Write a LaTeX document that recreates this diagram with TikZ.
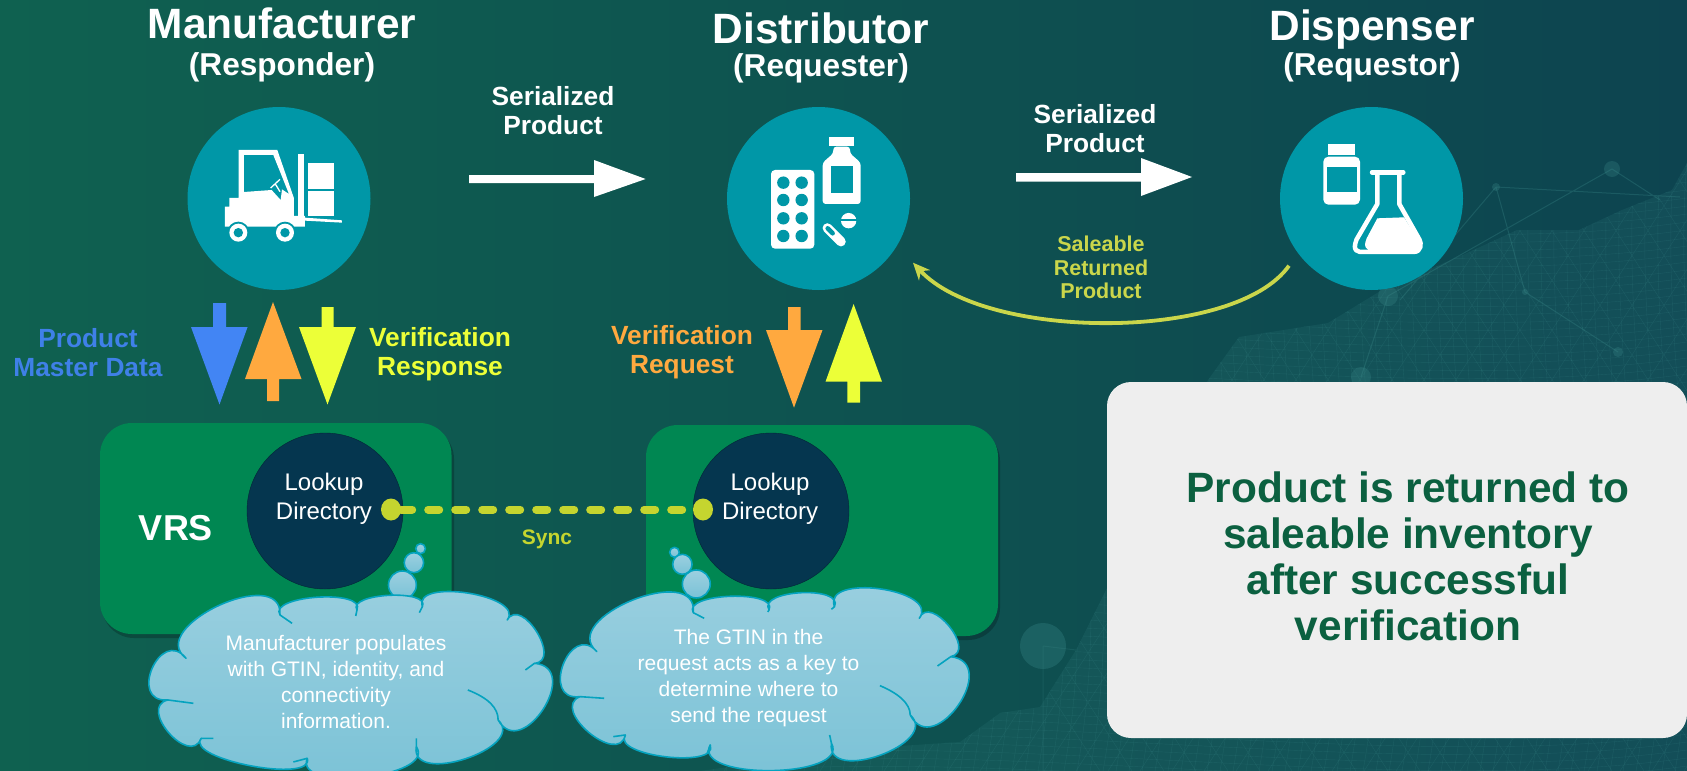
\documentclass[tikz,border=0pt]{standalone}
\usepackage{fontspec}
\setmainfont{Liberation Sans}
\usetikzlibrary{calc,arrows.meta,shapes.geometric}
\definecolor{teal1}{HTML}{0097A7}
\definecolor{boxgreen}{HTML}{008752}
\definecolor{darkblue}{HTML}{05364F}
\definecolor{cloudline}{HTML}{05A3BF}
\definecolor{lime1}{HTML}{C5D52F}
\definecolor{lime2}{HTML}{CAD64B}
\definecolor{blue1}{HTML}{4285F4}
\definecolor{blue2}{HTML}{3F80E8}
\definecolor{orange1}{HTML}{FFA93F}
\definecolor{yellow1}{HTML}{ECFF38}
\definecolor{greytext}{HTML}{0B6040}
\definecolor{meshcol}{HTML}{3C8C8C}
\definecolor{cloudtop}{HTML}{9CD0E0}
\definecolor{cloudbot}{HTML}{7AC2D6}
\definecolor{bgl}{HTML}{0F6150}
\definecolor{bgm}{HTML}{10504B}
\definecolor{bgr}{HTML}{0D4450}
\definecolor{msgbg}{HTML}{EEEEEE}
\newcommand{\lb}[3]{.. controls ($(#2)!#1!118:(#3)$) and ($(#3)!#1!-118:(#2)$) .. (#3)}
\tikzset{
  hub/.style={circle,fill=teal1,minimum size=183pt,inner sep=0pt},
  dircircle/.style={circle,fill=darkblue,draw=darkblue!70!black,minimum size=156pt,inner sep=0pt},
  syncdot/.style={ellipse,fill=lime1,minimum width=20pt,minimum height=22pt,inner sep=0pt},
  title/.style={text=white,font=\fontsize{42.4}{46}\selectfont\bfseries,anchor=base},
  subtitle/.style={text=white,font=\fontsize{31.6}{34}\selectfont\bfseries,anchor=base},
  flowlabel/.style={align=center,font=\fontsize{26.3}{29}\selectfont\bfseries},
  dirlabel/.style={align=center,text=white,font=\fontsize{24}{29}\selectfont},
  cloudlabel/.style={align=center,text=white,font=\fontsize{21}{26}\selectfont},
  cloudshape/.style={draw=cloudline,line width=1.6pt,top color=cloudtop,bottom color=cloudbot,line join=round},
  cloudtick/.style={draw=cloudline,line width=1.6pt},
  puff/.style={cloudshape},
  vrsbox/.style={fill=boxgreen,rounded corners=32pt},
  vrsshadow/.style={fill=black,opacity=.22,rounded corners=32pt},
  meshline/.style={draw=meshcol,line width=.4pt,opacity=.22},
  netline/.style={draw=meshcol,line width=1pt,opacity=.3},
  netdot/.style={fill=meshcol,opacity=.28},
}
\begin{document}
\begin{tikzpicture}[x=1pt,y=-1pt]
\useasboundingbox (0,0) rectangle (1687,771);
% background
\fill[left color=bgl,middle color=bgm,right color=bgr] (0,0) rectangle (1687,771);
% mesh landscape
\begin{scope}
\clip (700,771) -- (800,757) -- (900,746) -- (960,742) -- (1000,713) -- (1040,707) -- (1076,650) -- (1106,590) -- (1208,380) -- (1239,337) -- (1328,323) -- (1382,290) -- (1467,253) -- (1517,230) -- (1579,230) -- (1622,210) -- (1672,190) -- (1687,163) -- (1687,771) -- cycle;
\fill[meshcol,opacity=.14] (690,150) rectangle (1687,771);
\foreach \i in {0,...,90}{
  \draw[meshline] (700+\i*13,150) .. controls (680+\i*13,350) and (740+\i*13,550) .. (700+\i*13,771);
  \draw[meshline] (700,150+\i*8) .. controls (1000,120+\i*8) and (1400,190+\i*8) .. (1687,150+\i*8);
}
\foreach \i in {0,...,40}{
  \draw[meshline] (500+\i*32,771) -- (900+\i*32,150);
  \draw[meshline] (700+\i*32,150) -- (1100+\i*32,771);
}
\end{scope}
% network points
\coordinate (n1) at (1496,187);
\coordinate (n2) at (1612,169);
\coordinate (n3) at (1388,296);
\coordinate (n4) at (1525,292);
\coordinate (n5) at (1680,197);
\coordinate (n6) at (1361,377);
\coordinate (n7) at (1618,352);
\coordinate (n8) at (1076,650);
\coordinate (n9) at (1043,646);
\coordinate (n10) at (1043,771);
\draw[netline] (n1)--(n5) (n1)--(1400,300) (n2)--(n3) (n2)--(1660,200) (n1)--(n4) (n4)--(n7) (n3)--(n6);
\draw[netline,opacity=.2] (n9)--(n10) (n9)--(n8);
\fill[netdot] (n1) circle (4);
\fill[netdot] (n2) circle (8);
\fill[netdot] (n3) circle (10);
\fill[netdot] (n4) circle (3);
\fill[netdot] (n6) circle (10);
\fill[netdot] (n7) circle (5);
\fill[meshcol,opacity=.3] (n9) circle (23);

% titles
\node[title] (t1) at (282,38) {Manufacturer};
\node[subtitle] (s1) at (282,75) {(Responder)};
\node[title] (t2) at (821,43) {Distributor};
\node[subtitle] (s2) at (821,76) {(Requester)};
\node[title] (t3) at (1372,40) {Dispenser};
\node[subtitle] (s3) at (1372,75) {(Requestor)};

% hubs
\node[hub] (mfr) at (279,198.5) {};
\node[hub] (dist) at (818.5,198.5) {};
\node[hub] (disp) at (1371.5,198.5) {};

% forklift
\begin{scope}[shift={(190,130)},x=.3333pt,y=-.3333pt]
\fill[white,even odd rule] (105,290) -- (105,230) -- (118,230) -- (118,204) -- (146,204) -- (146,60) -- (262,60) -- (312,205) -- (312,258) -- (345,258) -- (345,290) -- cycle
 (162,75) -- (250,75) -- (297,192) -- (276,178) -- (272,210) -- (245,180) -- (162,186) -- cycle;
\draw[white,line width=1.3pt] (242,174) -- (270,148) (256,162) -- (270,185);
\fill[white] (325,72) rectangle (342,262);
\fill[white] (355,100) rectangle (431,178);
\fill[white] (355,182) rectangle (431,258);
\fill[white] (345,263) -- (456,271) -- (456,278) -- (345,272) -- cycle;
\foreach \wx in {145,285}{
  \fill[teal1] (\wx,308) circle (11pt);
  \fill[white] (\wx,308) circle (9pt);
  \fill[teal1] (\wx,308) circle (4.7pt);
}
\end{scope}

% pills
\begin{scope}[shift={(760,130)},x=.3333pt,y=-.3333pt]
\fill[white,rounded corners=4pt] (33,120) rectangle (163,356);
\foreach \px in {70,125}{\foreach \py in {158,210,265,318}{\fill[teal1] (\px,\py) circle (6.2pt);}}
\fill[white] (208,22) rectangle (282,48);
\fill[white,rounded corners=3pt] (220,50) -- (220,70) -- (188,98) -- (188,222) -- (302,222) -- (302,98) -- (270,70) -- (270,50) -- cycle;
\fill[teal1] (213,108) rectangle (278,188);
\fill[white] (266,272) circle (7.7pt);
\fill[teal1] (240,268) rectangle (292,274);
\draw[white,line width=9.5pt,line cap=round] (202,294) -- (243,335);
\draw[teal1,line width=4.5pt,line cap=round] (203,295) -- (218,310);
\end{scope}

% bottle and flask
\begin{scope}[shift={(1300,130)},x=.3333pt,y=-.3333pt]
\fill[white] (85,42) rectangle (165,74);
\fill[white,rounded corners=5pt] (70,80) rectangle (180,224);
\fill[teal1] (80,110) rectangle (170,185);
\draw[white,line width=4.5pt,line cap=round] (216,127) -- (310,127);
\draw[white,line width=4.5pt,line join=round] (232,127) -- (232,222) -- (170,328) .. controls (155,365) and (175,366) .. (190,366) -- (340,366) .. controls (365,366) and (365,340) .. (358,328) -- (298,222) -- (298,127);
\fill[white] (232,265) -- (312,262) -- (358,335) .. controls (365,355) and (355,366) .. (340,366) -- (205,360) .. controls (190,350) and (195,340) .. (200,325) -- cycle;
\end{scope}

% serialized arrows
\fill[white] (469,175) -- (594,175) -- (594,160) -- (645.6,179) -- (594,197) -- (594,183) -- (469,183) -- cycle;
\fill[white] (1016,173) -- (1141,173) -- (1141,158) -- (1192,177) -- (1141,196) -- (1141,181.7) -- (1016,181.7) -- cycle;
\node[flowlabel,text=white] (ser1) at (553,111) {Serialized\\Product};
\node[flowlabel,text=white] (ser2) at (1095,129) {Serialized\\Product};

% return arrow
\coordinate (retS) at (1289,265.7);
\coordinate (retE) at (913,262.7);
\draw[lime2,line width=3.8pt,-{Stealth[length=17pt,width=15pt]}] (retS) .. controls (1235,342) and (985,341) .. (retE);
\node[align=center,text=lime2,font=\fontsize{21.5}{23.2}\selectfont\bfseries] (ret) at (1101,267.5) {Saleable\\Returned\\Product};

% flow block arrows
\fill[blue1] (213,303) -- (226,303) -- (226,327) -- (247.6,327) -- (219.5,404.5) -- (191,327) -- (213,327) -- cycle;
\fill[orange1] (273,302) -- (301.5,379) -- (279,379) -- (279,401) -- (267,401) -- (267,379) -- (245,379) -- cycle;
\fill[yellow1] (321.5,307) -- (333.7,307) -- (333.7,327) -- (356,327) -- (327.5,404.5) -- (299,327) -- (321.5,327) -- cycle;
\fill[orange1] (788,307) -- (800.5,307) -- (800.5,330) -- (822.5,330) -- (794,407.7) -- (766,330) -- (788,330) -- cycle;
\fill[yellow1] (853.6,304) -- (882,381.7) -- (860,381.7) -- (860,402.7) -- (847.4,402.7) -- (847.4,381.7) -- (825.5,381.7) -- cycle;
\node[flowlabel,text=blue2] (pmd) at (88,353) {Product\\Master Data};
\node[flowlabel,text=yellow1] (vresp) at (440,354) {Verification\\Response};
\node[flowlabel,text=orange1] (vreq) at (682,352) {Verification\\Request};

% VRS boxes
\fill[vrsshadow] (102,427) rectangle (454,638);
\fill[vrsshadow] (648,429) rectangle (1000,640);
\node[vrsbox,minimum width=351.5pt,minimum height=211pt,inner sep=0pt] (box1) at (275.75,528.5) {};
\node[vrsbox,minimum width=352pt,minimum height=211pt,inner sep=0pt] (box2) at (822,530.5) {};
\node[text=white,font=\fontsize{36}{40}\selectfont\bfseries] (vrs) at (176,528) {VRS};
\node[dircircle] (dir1) at (325,511) {};
\node[dircircle] (dir2) at (771,511) {};
\node[dirlabel] (dirt1) at (324,498.5) {Lookup\\Directory};
\node[dirlabel] (dirt2) at (770,498.5) {Lookup\\Directory};
\node[syncdot] (dot1) at (391,509.5) {};
\node[syncdot] (dot2) at (703,509.5) {};
\draw[lime1,line width=8pt,line cap=round,dash pattern=on 11pt off 16pt] (dot1) -- (dot2);
\node[text=lime1,font=\fontsize{21}{24}\selectfont\bfseries] (sync) at (547,539) {Sync};

% clouds
\begin{scope}[shift={(80,410)},x=.606pt,y=-.3333pt]
\draw[puff] (562,416) ellipse (8 and 15);
\draw[puff] (551,458) ellipse (16 and 30);
\draw[puff] (532,525) ellipse (23 and 42);
\draw[puff] (981,427) ellipse (8 and 15);
\draw[puff] (994,463) ellipse (16 and 30);
\draw[puff] (1017,522) ellipse (23 and 42);
\draw[cloudshape] (175,745) \lb{.5}{175,745}{330,615} \lb{.3}{330,615}{457,600} \lb{.3}{457,600}{565,590} \lb{.36}{565,590}{705,630} \lb{.55}{705,630}{750,760} \lb{.72}{750,760}{690,930} \lb{.47}{690,930}{555,1010} \lb{.34}{555,1010}{375,1045} \lb{.25}{375,1045}{200,985} \lb{.62}{200,985}{145,870} \lb{.9}{145,870}{175,745} -- cycle;
\draw[cloudtick] (330,615) -- (350,640) (457,600) -- (455,618) (565,590) -- (560,608) (750,760) -- (735,780) (640,840) .. controls (675,865) and (690,895) .. (690,930) (555,1010) -- (555,985) (375,1045) -- (352,1056) (200,985) -- (220,985) (145,870) -- (187,880);
\draw[cloudshape] (853,725) \lb{.5}{853,725}{1012,608} \lb{.3}{1012,608}{1137,600} \lb{.36}{1137,600}{1245,590} \lb{.42}{1245,590}{1385,625} \lb{.55}{1385,625}{1437,740} \lb{.72}{1437,740}{1370,915} \lb{.5}{1370,915}{1240,1000} \lb{.33}{1240,1000}{1040,1005} \lb{.3}{1040,1005}{900,975} \lb{.55}{900,975}{825,860} \lb{.85}{825,860}{853,725} -- cycle;
\draw[cloudtick] (1012,608) -- (1030,625) (1137,600) -- (1135,606) (1245,590) -- (1240,598) (1437,740) -- (1415,768) (1320,827) .. controls (1350,850) and (1370,880) .. (1370,915) (1240,1000) -- (1237,975) (1040,1005) -- (1035,1030) (900,975) -- (880,980) (825,860) -- (865,865);
\end{scope}
\node[cloudlabel] (c1) at (336,682) {Manufacturer populates\\with GTIN, identity, and\\connectivity\\information.};
\node[cloudlabel] (c2) at (748.5,678) {The GTIN in the\\request acts as a key to\\determine where to\\send the request};

% message box
\fill[msgbg,rounded corners=24pt] (1107,382) rectangle (1687,738);
\node[align=center,text=greytext,font=\fontsize{42.4}{46}\selectfont\bfseries] (msg) at (1408,556.5) {Product is returned to\\saleable inventory\\after successful\\verification};
\end{tikzpicture}
\end{document}
